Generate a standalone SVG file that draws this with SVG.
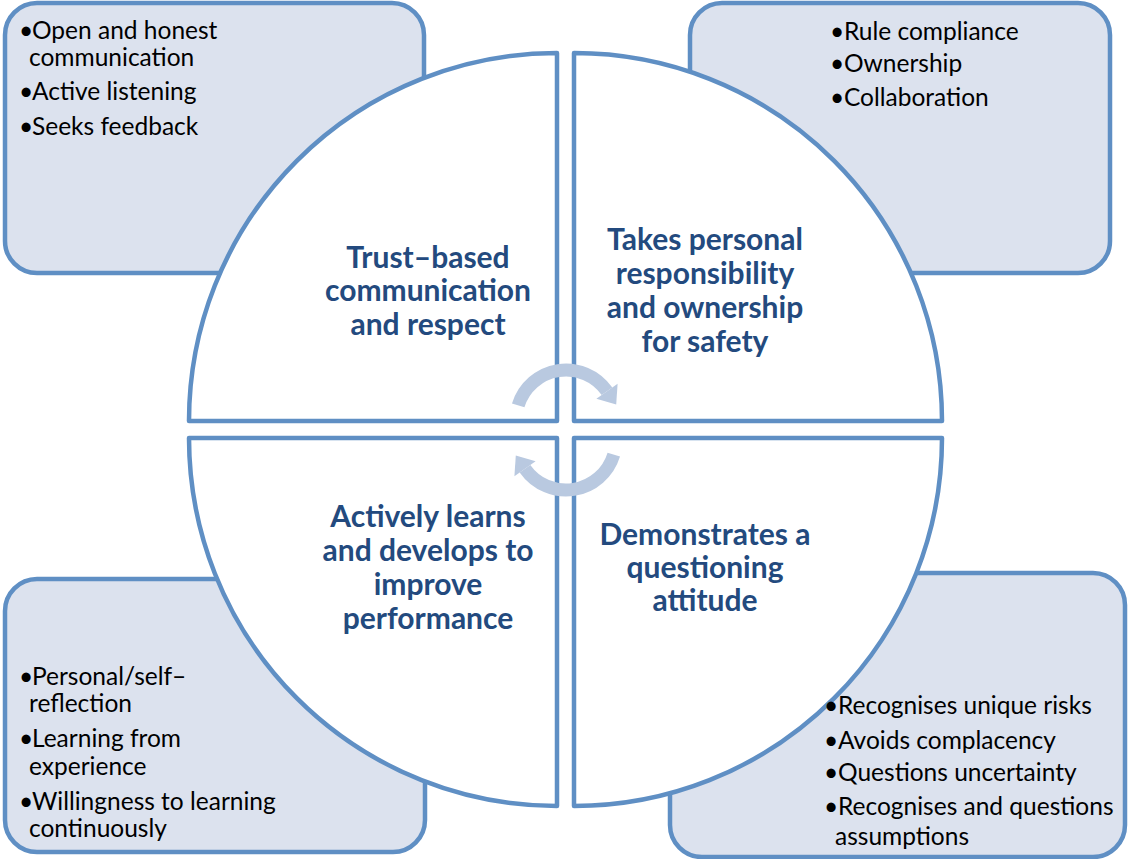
<svg xmlns="http://www.w3.org/2000/svg" width="1128" height="859" viewBox="0 0 1128 859">
<style>
.box{fill:#dce2ee;stroke:#5f8fc4;stroke-width:4.5}
.quad{fill:#ffffff;stroke:#5f8fc4;stroke-width:4.5;stroke-linejoin:round}
.title{font-family:Lato,"Liberation Sans",sans-serif;font-weight:bold;font-size:30px;fill:#234a7e;text-anchor:middle}
.item{font-family:Lato,"Liberation Sans",sans-serif;font-size:24.5px;fill:#000000}
.cyc{fill:none;stroke:#b9c9e0;stroke-width:13}
.head{fill:#b9c9e0}
</style>
<rect width="1128" height="859" fill="#ffffff"/>
<g id="box-tl"><rect class="box" x="5" y="3" width="419" height="270" rx="32"/>
<text class="item"><tspan x="19" y="39">•</tspan><tspan x="32" y="39">Open and honest</tspan><tspan x="29" y="66">communication</tspan><tspan x="19" y="100">•</tspan><tspan x="32" y="100">Active listening</tspan><tspan x="19" y="135">•</tspan><tspan x="32" y="135">Seeks feedback</tspan></text></g>
<g id="box-tr"><rect class="box" x="690" y="3" width="420" height="270" rx="32"/>
<text class="item"><tspan x="830" y="40">•</tspan><tspan x="844" y="40">Rule compliance</tspan><tspan x="830" y="72">•</tspan><tspan x="844" y="72">Ownership</tspan><tspan x="830" y="106">•</tspan><tspan x="844" y="106">Collaboration</tspan></text></g>
<g id="box-bl"><rect class="box" x="5" y="579" width="420" height="273" rx="32"/>
<text class="item"><tspan x="19" y="685">•</tspan><tspan x="32" y="685">Personal/self–</tspan><tspan x="29" y="712">reflection</tspan><tspan x="19" y="747">•</tspan><tspan x="32" y="747">Learning from</tspan><tspan x="29" y="775">experience</tspan><tspan x="19" y="810">•</tspan><tspan x="32" y="810">Willingness to learning</tspan><tspan x="29" y="837">continuously</tspan></text></g>
<g id="box-br"><rect class="box" x="670" y="573" width="455" height="284" rx="32"/></g>
<g id="quad-tl"><path class="quad" d="M557 421 L189 421 A368 368 0 0 1 557 53 Z"/>
<text class="title"><tspan x="428" y="268">Trust–based</tspan><tspan x="428" y="301">communication</tspan><tspan x="428" y="335">and respect</tspan></text></g>
<g id="quad-tr"><path class="quad" d="M574 421 L574 53 A368 368 0 0 1 942 421 Z"/>
<text class="title"><tspan x="705" y="250">Takes personal</tspan><tspan x="705" y="284">responsibility</tspan><tspan x="705" y="318">and ownership</tspan><tspan x="705" y="352">for safety</tspan></text></g>
<g id="quad-bl"><path class="quad" d="M557 438 L557 806 A368 368 0 0 1 189 438 Z"/>
<text class="title"><tspan x="428" y="527">Actively learns</tspan><tspan x="428" y="561">and develops to</tspan><tspan x="428" y="595">improve</tspan><tspan x="428" y="629">performance</tspan></text></g>
<g id="quad-br"><path class="quad" d="M574 438 L942 438 A368 368 0 0 1 574 806 Z"/>
<text class="title"><tspan x="705" y="545">Demonstrates a</tspan><tspan x="705" y="578">questioning</tspan><tspan x="705" y="611">attitude</tspan></text></g>
<g id="box-br-text"><text class="item"><tspan x="824" y="714">•</tspan><tspan x="838" y="714">Recognises unique risks</tspan><tspan x="824" y="749">•</tspan><tspan x="838" y="749">Avoids complacency</tspan><tspan x="824" y="781">•</tspan><tspan x="838" y="781">Questions uncertainty</tspan><tspan x="824" y="815">•</tspan><tspan x="838" y="815">Recognises and questions</tspan><tspan x="835" y="845">assumptions</tspan></text></g>
<g id="connectors">
<path class="cyc" d="M518.2 405.4 A50 50 0 0 1 607 391.3"/>
<polygon class="head" points="617.6,383.8 596.4,398.8 616.2,404.4"/>
<path class="cyc" d="M613.8 454.6 A50 50 0 0 1 525 468.7"/>
<polygon class="head" points="514.4,476.2 535.6,461.2 515.8,455.6"/>
</g>
</svg>
